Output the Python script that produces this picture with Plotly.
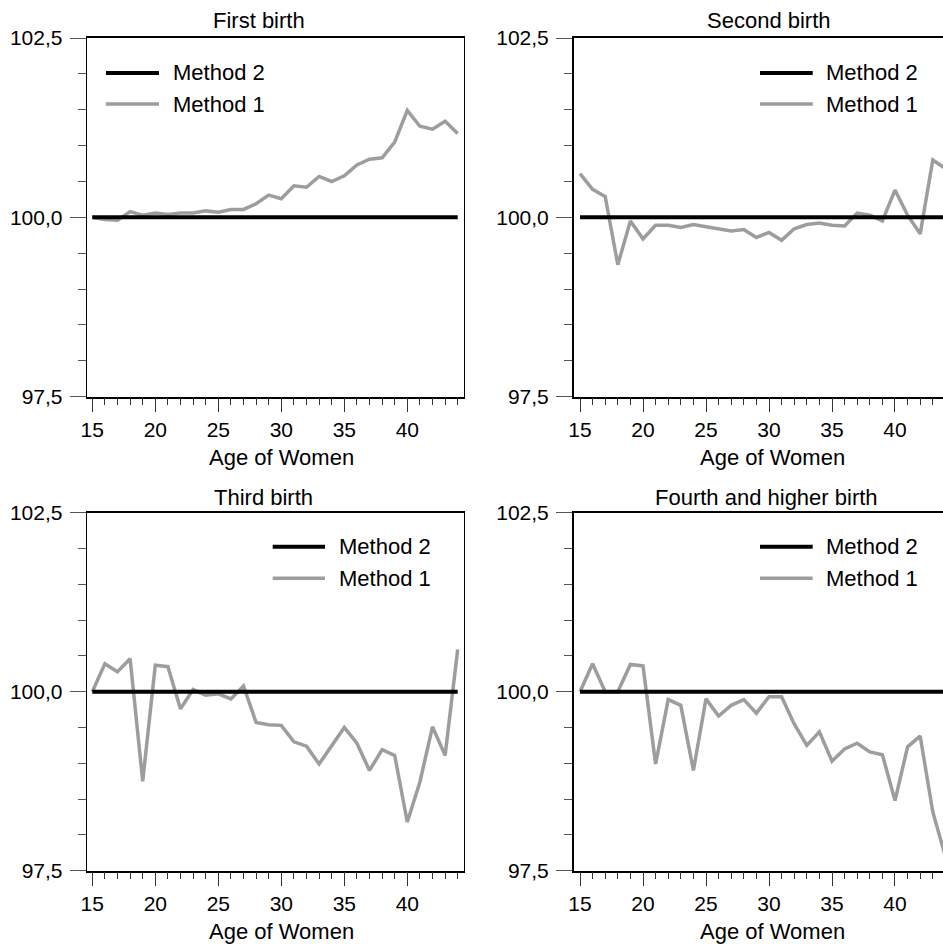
import plotly.graph_objects as go

# ---------------- data ----------------
ages = [15, 16, 17, 18, 19, 20, 21, 22, 23, 24, 25, 26, 27, 28, 29,
        30, 31, 32, 33, 34, 35, 36, 37, 38, 39, 40, 41, 42, 43, 44]

panel_titles = ["First birth", "Second birth", "Third birth", "Fourth and higher birth"]
series_names = ["Method 2", "Method 1"]
x_title = "Age of Women"

method2 = [100.0, 100.0, 100.0, 100.0, 100.0, 100.0, 100.0, 100.0, 100.0, 100.0,
           100.0, 100.0, 100.0, 100.0, 100.0, 100.0, 100.0, 100.0, 100.0, 100.0,
           100.0, 100.0, 100.0, 100.0, 100.0, 100.0, 100.0, 100.0, 100.0, 100.0]

first_m1 = [100.00, 99.97, 99.96, 100.08, 100.03, 100.06, 100.04, 100.06, 100.06, 100.09,
            100.07, 100.11, 100.11, 100.19, 100.31, 100.26, 100.44, 100.42, 100.57, 100.50,
            100.58, 100.73, 100.81, 100.83, 101.05, 101.49, 101.27, 101.23, 101.34, 101.17]

second_m1 = [100.61, 100.39, 100.29, 99.34, 99.95, 99.70, 99.89, 99.89, 99.86, 99.90,
             99.87, 99.84, 99.81, 99.83, 99.72, 99.79, 99.68, 99.84, 99.90, 99.92,
             99.89, 99.88, 100.06, 100.03, 99.95, 100.38, 100.03, 99.77, 100.80, 100.68]

third_m1 = [100.00, 100.39, 100.28, 100.46, 98.75, 100.37, 100.35, 99.76, 100.03, 99.95,
            99.97, 99.90, 100.08, 99.57, 99.54, 99.53, 99.30, 99.24, 98.99, 99.24,
            99.50, 99.28, 98.90, 99.19, 99.11, 98.18, 98.74, 99.51, 99.11, 100.59]

fourth_m1 = [100.00, 100.39, 100.00, 100.00, 100.38, 100.36, 98.99, 99.89, 99.81, 98.90,
             99.90, 99.66, 99.81, 99.89, 99.70, 99.93, 99.93, 99.55, 99.25, 99.44,
             99.03, 99.20, 99.28, 99.16, 99.12, 98.48, 99.23, 99.38, 98.32, 97.70]

method1_panels = [first_m1, second_m1, third_m1, fourth_m1]

# ---------------- layout helpers ----------------
W, H = 943, 944
FONT = "Liberation Sans, Arial, sans-serif"
BLACK = "#000000"
GRAY = "#9d9d9d"
TXT = 22
TICK = 21


def px(x):
    return x / W


def py(y):
    return 1 - y / H


# plot-area pixel boxes: (left, right, top, bottom), x-range
panels = [
    dict(l=86.7, r=464.0, t=38.0, b=396.7, xr=[14.556, 44.5], box=True,
         title_x=259, title_y=20.5, xt_x=281.7, xt_y=457,
         leg_x0=106, leg_x1=159, leg_tx=171, leg_y=[73, 104]),
    dict(l=574.0, r=943.0, t=38.0, b=396.7, xr=[14.524, 43.81], box=False,
         title_x=768.5, title_y=20.5, xt_x=772.8, xt_y=457,
         leg_x0=760, leg_x1=812.7, leg_tx=824, leg_y=[73, 104]),
    dict(l=86.7, r=464.0, t=512.7, b=870.7, xr=[14.556, 44.5], box=True,
         title_x=263, title_y=497, xt_x=281.7, xt_y=931,
         leg_x0=272.7, leg_x1=325, leg_tx=337, leg_y=[546.7, 578.3]),
    dict(l=574.0, r=943.0, t=512.7, b=870.7, xr=[14.524, 43.81], box=False,
         title_x=766, title_y=497, xt_x=772.8, xt_y=931,
         leg_x0=760, leg_x1=812.7, leg_tx=824, leg_y=[546.7, 578.3]),
]

fig = go.Figure()
shapes = []
annotations = []

for i, p in enumerate(panels):
    n = "" if i == 0 else str(i + 1)
    xa, ya = "x" + n, "y" + n

    # Method 1 (gray) then Method 2 (black) on top
    fig.add_trace(go.Scatter(x=ages, y=method1_panels[i], mode="lines",
                             name=series_names[1], showlegend=False,
                             line=dict(color=GRAY, width=3.5),
                             xaxis=xa, yaxis=ya))
    fig.add_trace(go.Scatter(x=ages, y=method2, mode="lines",
                             name=series_names[0], showlegend=False,
                             line=dict(color=BLACK, width=4),
                             xaxis=xa, yaxis=ya))

    xaxis = dict(domain=[px(p["l"]), min(1.0, px(p["r"]))], range=p["xr"],
                 anchor=ya, showgrid=False, zeroline=False, automargin=False,
                 showline=True, linecolor=BLACK, linewidth=1.5, mirror=True,
                 ticks="outside", tick0=15, dtick=5, ticklen=14, tickwidth=1,
                 tickcolor="#333333",
                 minor=dict(dtick=1, tick0=15, ticklen=7, tickwidth=1,
                            tickcolor="#333333", ticks="outside", showgrid=False),
                 tickfont=dict(family=FONT, size=TICK, color=BLACK),
                 ticklabelstandoff=-1, fixedrange=True)
    yaxis = dict(domain=[py(p["b"]), py(p["t"])], range=[97.5, 102.5],
                 anchor=xa, showgrid=False, zeroline=False, automargin=False,
                 showline=True, linecolor=BLACK,
                 linewidth=1 if p["box"] else 2, mirror=p["box"],
                 ticks="outside", tick0=97.5, dtick=2.5, ticklen=16, tickwidth=1,
                 tickcolor="#555555", tickformat=".1f",
                 minor=dict(dtick=0.5, tick0=97.5, ticklen=8, tickwidth=1,
                            tickcolor="#555555", ticks="outside", showgrid=False),
                 tickfont=dict(family=FONT, size=TICK, color=BLACK),
                 ticklabelstandoff=3, fixedrange=True)
    fig.layout["xaxis" + n] = xaxis
    fig.layout["yaxis" + n] = yaxis

    # panel title
    annotations.append(dict(text=panel_titles[i], x=px(p["title_x"]), y=py(p["title_y"]),
                            xref="paper", yref="paper", xanchor="center", yanchor="middle",
                            showarrow=False, font=dict(family=FONT, size=TXT, color=BLACK)))
    # x-axis title
    annotations.append(dict(text=x_title, x=px(p["xt_x"]), y=py(p["xt_y"]),
                            xref="paper", yref="paper", xanchor="center", yanchor="middle",
                            showarrow=False, font=dict(family=FONT, size=TXT, color=BLACK)))
    # legend (manual, long line samples)
    for k, (nm, col, w) in enumerate([(series_names[0], BLACK, 4), (series_names[1], GRAY, 3.5)]):
        yy = py(p["leg_y"][k])
        shapes.append(dict(type="line", xref="paper", yref="paper",
                           x0=px(p["leg_x0"]), x1=px(p["leg_x1"]), y0=yy, y1=yy,
                           line=dict(color=col, width=w)))
        annotations.append(dict(text=nm, x=px(p["leg_tx"]), y=yy,
                                xref="paper", yref="paper", xanchor="left", yanchor="middle",
                                showarrow=False, font=dict(family=FONT, size=TXT, color=BLACK)))

fig.update_layout(template="none", width=W, height=H,
                  margin=dict(l=0, r=0, t=0, b=0, pad=0, autoexpand=False),
                  paper_bgcolor="white", plot_bgcolor="white",
                  separators=",.", showlegend=False,
                  shapes=shapes, annotations=annotations,
                  font=dict(family=FONT, size=TICK, color=BLACK))

fig.write_html("out.html", config={"displayModeBar": False})
